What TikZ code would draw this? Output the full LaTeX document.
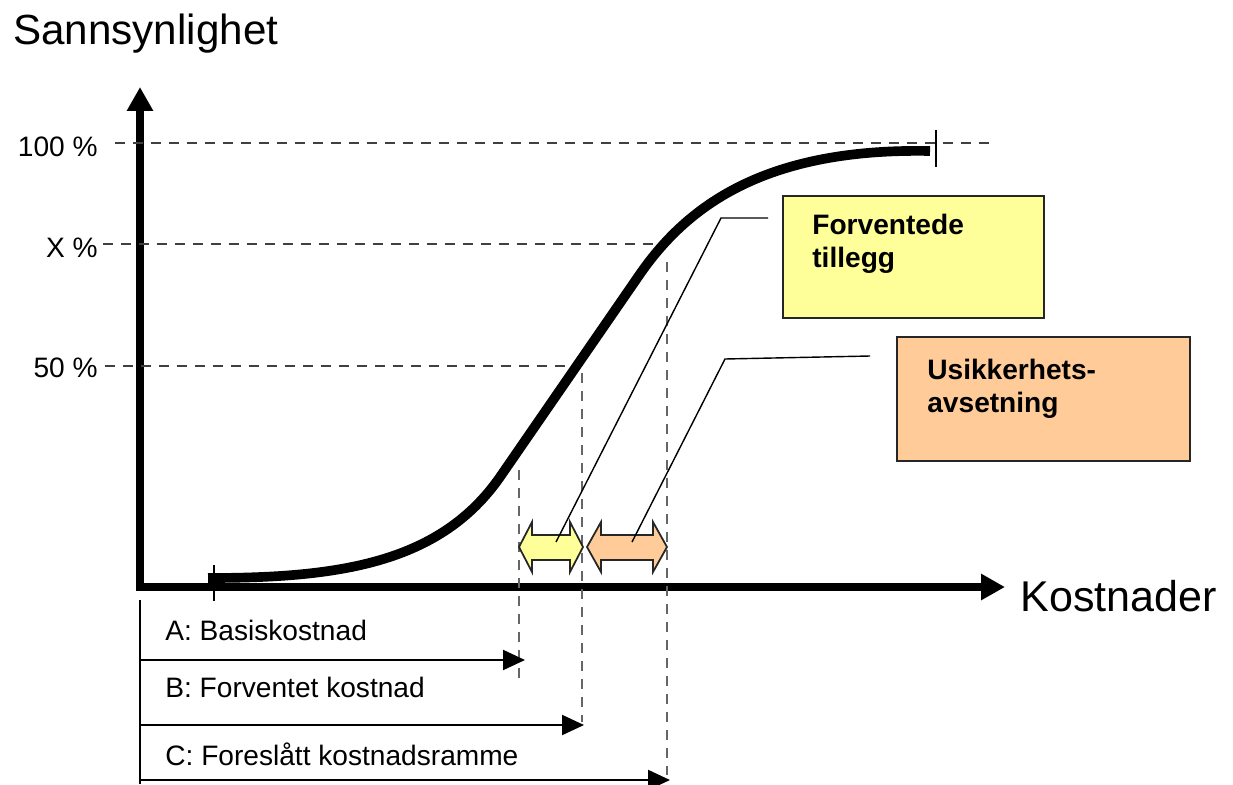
\documentclass[tikz,border=0pt]{standalone}
\usepackage{fontspec}
\setmainfont{Liberation Sans}
\usepackage{tikz}
\usetikzlibrary{arrows.meta}
\definecolor{boxyellow}{HTML}{FFFF99}
\definecolor{boxorange}{HTML}{FFCC99}
\tikzset{
  axis/.style = {line width=5pt, line join=miter,
    {Triangle[length=0.48cm, width=0.5cm]}-{Triangle[length=0.48cm, width=0.5cm]}},
  curve/.style = {line width=5.5pt},% fordelingskurven
  guide/.style = {draw=black!75, line width=1pt, dash pattern=on 0.2cm off 0.16cm},
  vguide/.style = {draw=black!60, line width=1pt, dash pattern=on 0.2cm off 0.16cm},
  cost/.style = {line width=1.2pt, -{Triangle[length=0.44cm, width=0.4cm]}},
  callout/.style = {line width=0.8pt},
  tick/.style = {line width=1pt},
  pct/.style = {anchor=base east, inner sep=0pt, font=\fontsize{16}{19}\selectfont},
  costlabel/.style = {anchor=base west, inner sep=0pt, font=\fontsize{16}{19}\selectfont},
  infobox/.style = {draw=black!85, line width=1.2pt, anchor=north west,
    minimum width=5.22cm, minimum height=2.44cm},
  infotext/.style = {anchor=north west, inner sep=0pt, align=left,
    font=\bfseries\fontsize{16}{18.7}\selectfont},
  dblarr/.style = {draw=black!85, line width=1pt, line join=miter}
}
\begin{document}
\begin{tikzpicture}[x=0.02cm, y=-0.02cm]
\useasboundingbox (0,0) rectangle (1233,784);
% akser
\draw[axis] (140,87) -- (140,587) -- (1005,587);
\node[anchor=base west, inner sep=0pt, font=\fontsize{24}{28}\selectfont] (ylab) at (13,45) {Sannsynlighet};
\node[anchor=base west, inner sep=0pt, font=\fontsize{24.5}{29}\selectfont] (xlab) at (1020,611) {Kostnader};
% prosentnivaa
\node[pct] (p100) at (98,156) {100 \%};
\node[pct] (px) at (98,257) {X \%};
\node[pct] (p50) at (98,377) {50 \%};
\draw[guide] (115,143) -- (995,143);
\draw[guide] (103,244) -- (662,244);
\draw[guide] (105,366) -- (574,366);
\draw[vguide] (519,470) -- (519,683);
\draw[vguide] (582,373) -- (582,722);
\draw[vguide] (667,262) -- (667,775);
% kurve
\draw[curve] (208,578) .. controls (340,578) and (440,563) .. (500,477) -- (640,274)
  .. controls (690,202) and (770,148) .. (930,151);
\draw[tick] (214,565) -- (214,601);
\draw[tick] (936,130) -- (936,167);
% dobbeltpiler
\draw[dblarr, fill=boxyellow] (519,547) -- (532,522) -- (532,535) -- (570,535) -- (570,522) -- (583,547)
  -- (570,572) -- (570,560) -- (532,560) -- (532,572) -- cycle;
\draw[dblarr, fill=boxorange] (587,547) -- (601,522) -- (601,535) -- (653,535) -- (653,522) -- (667,547)
  -- (653,572) -- (653,560) -- (601,560) -- (601,572) -- cycle;
\coordinate (yarr) at (556,542);
\coordinate (oarr) at (632,542);
% bokser
\node[infobox, fill=boxyellow] (fbox) at (782,195) {};
\node[infotext] (ftext) at ([shift={(30,19)}]fbox.north west) {Forventede\\tillegg};
\node[infobox, fill=boxorange, minimum width=5.86cm, minimum height=2.48cm] (ubox) at (896,336) {};
\node[infotext] (utext) at ([shift={(31,23)}]ubox.north west) {Usikkerhets-\\avsetning};
\coordinate (fend) at (768,218);
\coordinate (uend) at (870,356);
\draw[callout] (yarr) -- (721,218) -- (fend);
\draw[callout] (oarr) -- (725,359) -- (uend);
% kostnadspiler
\draw[tick] (140,600) -- (140,784);
\node[costlabel] (ca) at (165,640) {A: Basiskostnad};
\node[costlabel] (cb) at (165,697) {B: Forventet kostnad};
\node[costlabel] (cc) at (165,765) {C: Foreslått kostnadsramme};
\draw[cost] (140,660) -- (525,660);
\draw[cost] (140,725) -- (584,725);
\draw[cost] (140,780) -- (670,780);
\end{tikzpicture}
\end{document}
